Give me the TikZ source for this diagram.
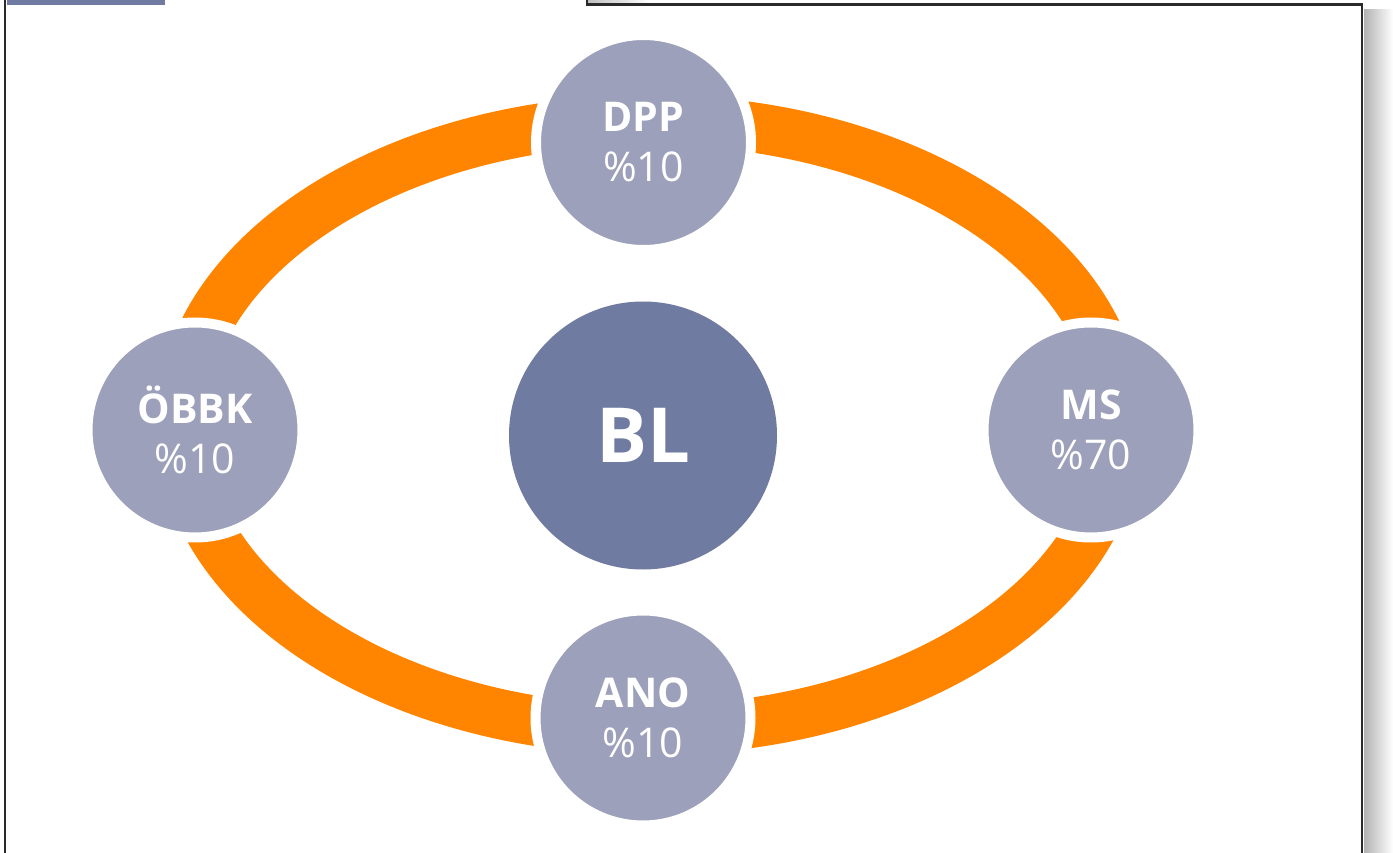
\documentclass[tikz,border=0pt]{standalone}
\usepackage{fontspec}
\setmainfont{Open Sans}
\definecolor{ringorange}{HTML}{FF8500}
\definecolor{satgray}{HTML}{9DA0BA}
\definecolor{hubblue}{HTML}{6F7BA0}
\definecolor{framecol}{HTML}{2A2A2A}
\begin{document}
\begin{tikzpicture}[x=1pt,y=-1pt,
  sat/.style={circle, fill=satgray, draw=white, line width=10pt, minimum size=215pt,
    inner sep=0pt, text=white, align=center, font=\fontsize{41}{50}\selectfont},
  hub/.style={circle, fill=hubblue, minimum size=268pt, inner sep=0pt, text=white,
    font=\fontsize{76}{76}\selectfont\bfseries},
  ring/.style={draw=ringorange, line width=50pt},
  frameline/.style={draw=framecol, line width=2.2pt}]
\useasboundingbox (0,0) rectangle (1393,853);
% frame
\fill[hubblue] (7,0) rectangle (165,5);
\shade[left color=black!30, right color=white] (1364,10) rectangle (1393,853);
\shade[left color=black!25, right color=white] (588,0) rectangle (650,3.5);
\draw[frameline] (5,0) -- (5,853);
\draw[frameline] (587,0) -- (587,4.5) -- (1362,4.5) -- (1362,853);
% ring
\coordinate (ringc) at (650,425);
\draw[ring] (ringc) ellipse [x radius=469, y radius=305];
% nodes
\node[sat] (dpp) at (643.5,142.5) {{\bfseries DPP}\\\%10};
\node[sat] (obbk) at (195,430) {{\bfseries ÖBBK}\\\%10};
\node[sat] (ms) at (1091,430) {{\bfseries MS}\\\%70};
\node[sat] (ano) at (643,718) {{\bfseries ANO}\\\%10};
\node[hub] (bl) at (643,435.5) {BL};
\end{tikzpicture}
\end{document}
